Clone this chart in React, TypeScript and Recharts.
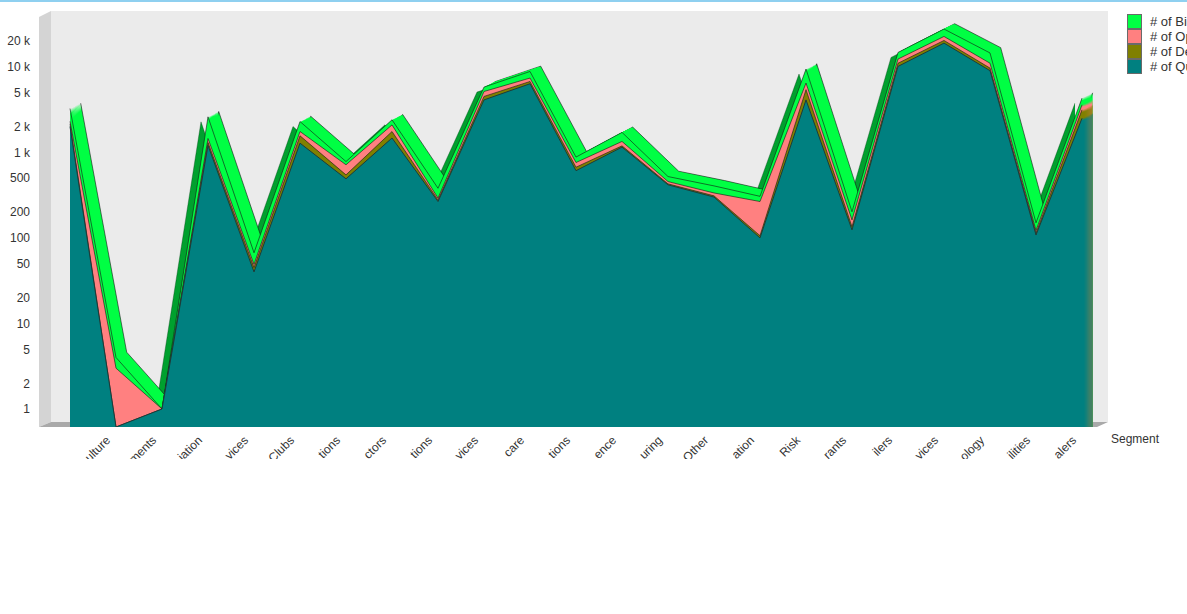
import { AreaChart, Area, XAxis, YAxis } from "recharts"

// segment labels as shown (QlikView truncates them), first one is blank
const segments = [
  "", "ulture", "ments", "iation", "vices", "Clubs", "tions", "ctors", "tions", "vices", "care",
  "tions", "ence", "uring", "Other", "ation", "Risk", "rants", "ilers", "vices", "ology", "ilities", "alers",
]

const quotes = [2000, 0, 1, 1200, 40, 1280, 490, 1470, 266, 4100, 6330, 610, 1150, 417, 300, 100, 4100, 124, 10100, 18900, 9000, 108, 2500]
const deals = [150, 0, 0, 100, 5, 280, 55, 280, 12, 400, 400, 60, 40, 11, 10, 6, 1300, 11, 900, 1400, 650, 6, 640]
const opps = [150, 3, 0, 150, 4, 190, 170, 340, 14, 640, 650, 90, 150, 27, 25, 160, 1050, 27, 1300, 2300, 1350, 8, 450]
const bids = [950, 1, 0, 1150, 18, 540, 65, 310, 88, 650, 1430, 120, 370, 66, 70, 40, 2950, 40, 2400, 5000, 3500, 28, 710]

const seriesNames = ["# of Bids", "# of Opportunities", "# of Deals", "# of Quotes"]
const seriesColors = ["#00ff44", "#ff8080", "#808000", "#008080"]

const yTicks = [1, 2, 5, 10, 20, 50, 100, 200, 500, 1000, 2000, 5000, 10000, 20000]

const FLOOR = 0.616
const TOP = 39200
const PX_PER_DECADE = 85.56
// 3D depth of the chart: right/up offset of the back plane, split in steps
const DEPTH_X = 10.7
const DEPTH_Y = 5.3
const STEPS = 10
const PAD_L = 30
const PAD_R = 15
const LABEL_Y = 441
const LABEL_CLIP = [427, 459]

const rows = segments.map((s, i) => {
  const qu = quotes[i]
  const de = qu + deals[i]
  const op = de + opps[i]
  const bi = op + bids[i]
  return {
    idx: i,
    qu: Math.max(qu, FLOOR),
    de: Math.max(de, FLOOR),
    op: Math.max(op, FLOOR),
    bi: Math.max(bi, FLOOR),
  }
})

// depth layers, farthest first
const depthSteps = Array.from({ length: STEPS }, (_, k) => STEPS - k).map((k) => {
  const dx = (DEPTH_X * k) / STEPS
  const dy = (DEPTH_Y * k) / STEPS
  return { id: `d${k}`, dx, f: Math.pow(10, dy / PX_PER_DECADE) }
})
const shadeShift = { dx: -7, f: 1 / Math.pow(10, 5 / PX_PER_DECADE) }

const font = "'Liberation Sans', Arial, sans-serif"

const fmt = (v: number) => (v >= 1000 ? `${v / 1000} k` : `${v}`)

const SegmentTick = (props: any) => {
  const { x, payload, index } = props
  const label = segments[payload.value] ?? ""
  const ax = x - 5
  return (
    <g>
      <defs>
        <clipPath id={`seg-clip-${index}`}>
          <rect x={ax - 80} y={LABEL_CLIP[0]} width={100} height={LABEL_CLIP[1] - LABEL_CLIP[0]} />
        </clipPath>
      </defs>
      <g clipPath={`url(#seg-clip-${index})`}>
        <text
          x={ax}
          y={LABEL_Y}
          textAnchor="end"
          fontSize={12}
          fontFamily={font}
          fill="#333"
          transform={`rotate(-45 ${ax} ${LABEL_Y})`}
        >
          {label}
        </text>
      </g>
    </g>
  )
}

const ValueTick = (props: any) => {
  const { y, payload } = props
  return (
    <text x={30} y={y} dy="0.36em" textAnchor="end" fontSize={12} fontFamily={font} fill="#333">
      {fmt(payload.value)}
    </text>
  )
}

const outline = "rgba(20,20,20,0.75)"

export default function App() {
  return (
    <div style={{ position: "relative", width: 1187, height: 614, overflow: "hidden", background: "#fff", fontFamily: font }}>
      <style>{`
        body { margin: 0; overflow: hidden; }
        .depth-left { clip-path: inset(0 0 0 8px); }
        .side-face { clip-path: inset(0 0 0 calc(100% - 2px)); }
      `}</style>
      <div style={{ position: "absolute", left: 0, top: 0, width: 1187, height: 2, background: "#8fd0f0" }} />
      <svg width={1187} height={614} style={{ position: "absolute", left: 0, top: 0 }}>
        <rect x={51} y={11} width={1057} height={411} fill="#ebebeb" />
        <polygon points="39,17 51,11 51,422 39,427" fill="#d4d4d4" />
        <polygon points="39,427 51,422 1108,422 1097,427" fill="#a9a9a9" />
      </svg>
      <div style={{ position: "absolute", left: 0, top: 0 }}>
        <AreaChart width={1187} height={614} data={rows} margin={{ top: 16, right: 90, bottom: 147, left: 0 }}>
          <XAxis
            xAxisId="main"
            dataKey="idx"
            type="category"
            scale="point"
            interval={0}
            padding={{ left: PAD_L, right: PAD_R }}
            axisLine={false}
            tickLine={false}
            tickSize={0}
            tickMargin={0}
            height={40}
            tick={<SegmentTick />}
          />
          <YAxis
            yAxisId="main"
            scale="log"
            type="number"
            domain={[FLOOR, TOP]}
            allowDataOverflow
            ticks={yTicks}
            interval={0}
            width={40}
            axisLine={false}
            tickLine={false}
            tick={<ValueTick />}
          />
          {depthSteps.map((d) => (
            <XAxis key={`x${d.id}`} xAxisId={d.id} dataKey="idx" type="category" scale="point" hide padding={{ left: PAD_L + d.dx, right: PAD_R - d.dx }} />
          ))}
          {depthSteps.map((d) => (
            <YAxis key={`y${d.id}`} yAxisId={d.id} scale="log" type="number" hide domain={[FLOOR / d.f, TOP / d.f]} allowDataOverflow />
          ))}
          <XAxis xAxisId="shade" dataKey="idx" type="category" scale="point" hide padding={{ left: PAD_L + shadeShift.dx, right: PAD_R - shadeShift.dx }} />
          <YAxis yAxisId="shade" scale="log" type="number" hide domain={[FLOOR / shadeShift.f, TOP / shadeShift.f]} allowDataOverflow />

          {/* shaded left faces of rising slopes */}
          <Area key="shade" className="depth-left" xAxisId="shade" yAxisId="shade" type="linear" dataKey="bi" fill="#00a02e" fillOpacity={1} stroke="rgba(0,60,20,0.6)" strokeWidth={0.6} isAnimationActive={false} />

          {/* top face of the stack, swept from back to front */}
          {depthSteps.map((d, i) => (
            <Area key={`top${d.id}`} xAxisId={d.id} yAxisId={d.id} type="linear" dataKey="bi" fill={seriesColors[0]} fillOpacity={1} stroke={i === 0 ? outline : "none"} strokeWidth={0.8} isAnimationActive={false} />
          ))}
          {/* right end faces */}
          {depthSteps.flatMap((d) =>
            (["op", "de", "qu"] as const).map((k, j) => (
              <Area key={`side${d.id}${k}`} className="side-face" xAxisId={d.id} yAxisId={d.id} type="linear" dataKey={k} fill={seriesColors[j + 1]} fillOpacity={1} stroke="none" isAnimationActive={false} />
            ))
          )}

          {/* front faces */}
          <Area key="bi" name={seriesNames[0]} xAxisId="main" yAxisId="main" type="linear" dataKey="bi" fill={seriesColors[0]} fillOpacity={1} stroke={outline} strokeWidth={0.8} isAnimationActive={false} />
          <Area key="op" name={seriesNames[1]} xAxisId="main" yAxisId="main" type="linear" dataKey="op" fill={seriesColors[1]} fillOpacity={1} stroke={outline} strokeWidth={0.8} isAnimationActive={false} />
          <Area key="de" name={seriesNames[2]} xAxisId="main" yAxisId="main" type="linear" dataKey="de" fill={seriesColors[2]} fillOpacity={1} stroke={outline} strokeWidth={0.8} isAnimationActive={false} />
          <Area key="qu" name={seriesNames[3]} xAxisId="main" yAxisId="main" type="linear" dataKey="qu" fill={seriesColors[3]} fillOpacity={1} stroke="#1b3b3b" strokeWidth={1} isAnimationActive={false} />
        </AreaChart>
      </div>
      <div style={{ position: "absolute", left: 1111, top: 432, fontSize: 12, color: "#333" }}>Segment</div>
      <div style={{ position: "absolute", left: 1127, top: 14 }}>
        {seriesNames.map((n, i) => (
          <div key={n} style={{ display: "flex", alignItems: "center", height: 15, whiteSpace: "nowrap" }}>
            <div style={{ width: 15, height: 15, background: seriesColors[i], border: "1px solid #6a6a6a", boxSizing: "border-box" }} />
            <span style={{ marginLeft: 8, fontSize: 13, color: "#333" }}>{n}</span>
          </div>
        ))}
      </div>
    </div>
  )
}
